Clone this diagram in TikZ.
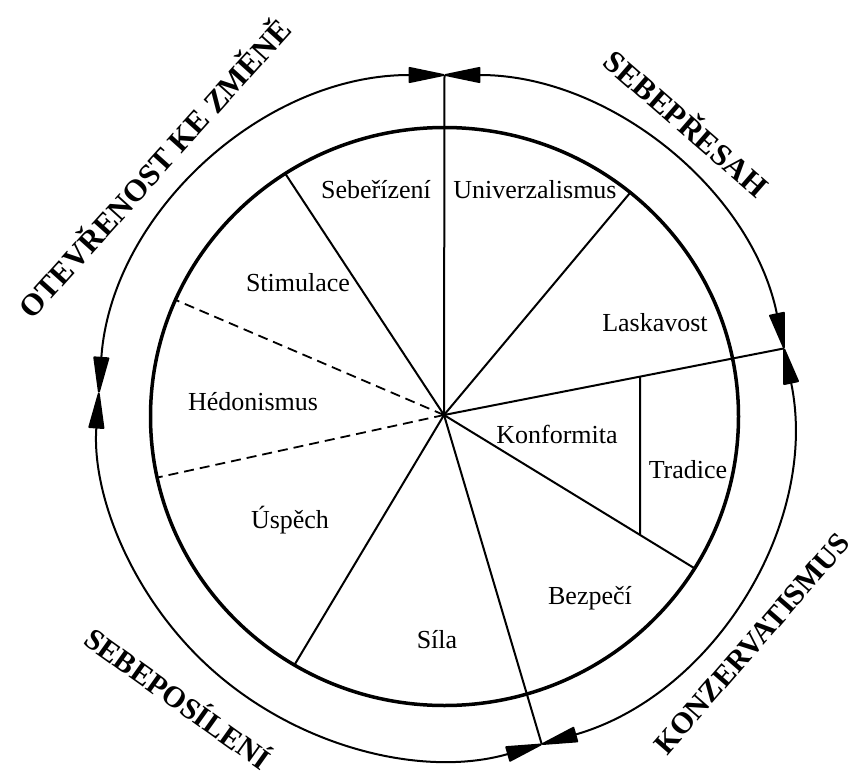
\documentclass[tikz,border=0pt]{standalone}
\usepackage{fontspec}
\setmainfont{Liberation Serif}
\usetikzlibrary{arrows.meta}
\tikzset{wedgetip/.tip={Triangle[length=40pt,width=16pt,round]}}
\begin{document}
\begin{tikzpicture}[x=1pt,y=1pt,
  spoke/.style={line width=2pt},
  dashspoke/.style={line width=1.8pt, dash pattern=on 10pt off 6pt},
  innerring/.style={line width=3.5pt},
  outerarc/.style={line width=2pt, {wedgetip}-{wedgetip}},
  lbl/.style={font=\fontsize{26}{30}\selectfont, inner sep=0pt},
  grp/.style={inner sep=0pt}]
\useasboundingbox (0,0) rectangle (855,-771);
\def\rxi{294}\def\ryi{289}
\def\rxo{346.5}\def\ryo{341.5}
\coordinate (o) at (444.5,-416.5);
\coordinate (c) at (444,-415);
% inner ring
\draw[innerring] (o) ellipse [x radius=\rxi, y radius=\ryi];
% spoke ends on inner ring
\path (o) ++(122.8:\rxi pt and \ryi pt) coordinate (e2);
\path (o) ++(50.8:\rxi pt and \ryi pt) coordinate (e3);
\path (o) ++(156.2:\rxi pt and \ryi pt) coordinate (e4);
\path (o) ++(192.2:\rxi pt and \ryi pt) coordinate (e5);
\path (o) ++(239.3:\rxi pt and \ryi pt) coordinate (e6);
\path (o) ++(328.3:\rxi pt and \ryi pt) coordinate (e8);
% junctions on outer ring
\path (o) ++(90:\rxo pt and \ryo pt) coordinate (j1);
\path (o) ++(11.5:\rxo pt and \ryo pt) coordinate (j2);
\path (o) ++(-73.7:\rxo pt and \ryo pt) coordinate (j3);
\path (o) ++(176:\rxo pt and \ryo pt) coordinate (j4);
% outer arcs
\draw[outerarc] (j1) arc[start angle=90, end angle=11.5, x radius=\rxo, y radius=\ryo];
\draw[outerarc] (j2) arc[start angle=11.5, end angle=-73.7, x radius=\rxo, y radius=\ryo];
\draw[outerarc] (j3) arc[start angle=-73.7, end angle=-184, x radius=\rxo, y radius=\ryo];
\draw[outerarc] (j4) arc[start angle=176, end angle=90, x radius=\rxo, y radius=\ryo];
% spokes
\draw[spoke] (c) -- (j1);
\draw[spoke] (c) -- (j2);
\draw[spoke] (c) -- (j3);
\draw[spoke] (c) -- (e2);
\draw[spoke] (c) -- (e3);
\draw[spoke] (c) -- (e6);
\draw[spoke] (c) -- (e8);
\draw[dashspoke] (c) -- (e4);
\draw[dashspoke] (c) -- (e5);
% tradice divider
\coordinate (t1) at (640,0);
\coordinate (t2) at (640,-800);
\coordinate (ta) at (intersection of c--j2 and t1--t2);
\coordinate (tb) at (intersection of c--e8 and t1--t2);
\draw[spoke] (ta) -- (tb);
% value labels
\node[lbl] (n1) at (376,-190) {Sebeřízení};
\node[lbl] (n2) at (535,-190) {Univerzalismus};
\node[lbl] (n3) at (298,-283) {Stimulace};
\node[lbl] (n4) at (655,-323) {Laskavost};
\node[lbl] (n5) at (253,-402) {Hédonismus};
\node[lbl] (n6) at (557,-434) {Konformita};
\node[lbl] (n7) at (688,-470) {Tradice};
\node[lbl] (n8) at (290,-520) {Úspěch};
\node[lbl] (n9) at (590,-598) {Bezpečí};
\node[lbl] (n10) at (437,-640) {Síla};
% group labels
\node[grp, font=\fontsize{31}{35}\selectfont\bfseries, rotate=48] (g1) at (153,-167) {OTEVŘENOST KE ZMĚNĚ};
\node[grp, font=\fontsize{31}{35}\selectfont\bfseries, rotate=-41] (g2) at (688,-122) {SEBEPŘESAH};
\node[grp, font=\fontsize{30}{34}\selectfont\bfseries, rotate=49] (g3) at (752,-644) {KONZERVATISMUS};
\node[grp, font=\fontsize{30}{34}\selectfont\bfseries, rotate=-35.5] (g4) at (179,-697) {SEBEPOSÍLENÍ};
\end{tikzpicture}
\end{document}
